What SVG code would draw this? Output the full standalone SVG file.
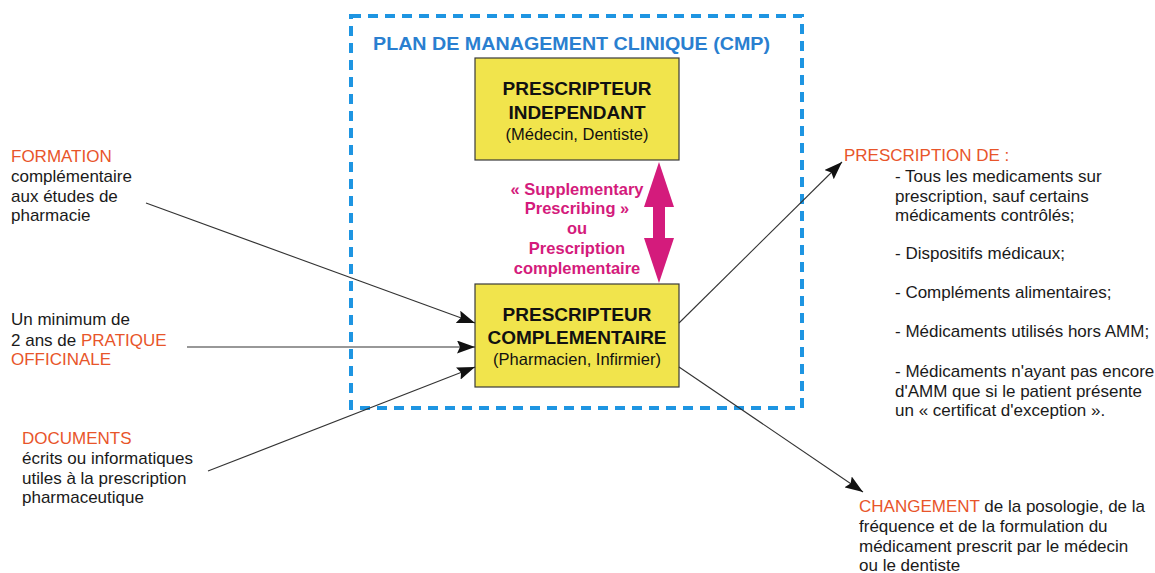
<svg xmlns="http://www.w3.org/2000/svg" width="1155" height="573" viewBox="0 0 1155 573">
<style>
text{font-family:"Liberation Sans",Arial,sans-serif;}
.b{font-size:17px;fill:#1a1a1a;}
.o{fill:#e8552a;}
.ttl{font-size:18px;font-weight:bold;fill:#2a7fd0;}
.box{fill:#f1e44c;stroke:#3a3a3a;stroke-width:1.2;}
.bt{font-size:19px;font-weight:bold;fill:#111;text-anchor:middle;}
.bs{font-size:16.5px;fill:#111;text-anchor:middle;}
.m{font-size:16.5px;font-weight:bold;fill:#d41b7c;text-anchor:middle;}
.c{stroke:#333;stroke-width:1.1;fill:none;marker-end:url(#ah);}
</style>
<defs>
<marker id="ah" markerUnits="userSpaceOnUse" markerWidth="19" markerHeight="13" refX="18" refY="6.5" orient="auto">
<path d="M0,0 L18,6.5 L0,13 L3,6.5 z" fill="#111"/>
</marker>
</defs>
<rect x="0" y="0" width="1155" height="573" fill="#fff"/>
<g id="cmp">
<rect x="351" y="16" width="451" height="392" fill="none" stroke="#1e95e2" stroke-width="4" stroke-dasharray="10,7"/>
<text class="ttl" x="373" y="50" textLength="397" lengthAdjust="spacingAndGlyphs">PLAN DE MANAGEMENT CLINIQUE (CMP)</text>
</g>
<g id="independant">
<rect class="box" x="475" y="58" width="204" height="102"/>
<text class="bt" x="577" y="95">PRESCRIPTEUR</text>
<text class="bt" x="577" y="119">INDEPENDANT</text>
<text class="bs" x="577" y="140">(Médecin, Dentiste)</text>
</g>
<g id="complementaire">
<rect class="box" x="475" y="284" width="204" height="103"/>
<text class="bt" x="577" y="321">PRESCRIPTEUR</text>
<text class="bt" x="577" y="344">COMPLEMENTAIRE</text>
<text class="bs" x="577" y="365">(Pharmacien, Infirmier)</text>
</g>
<g id="supplementary">
<polygon points="659,162 674,207 665,207 665,238 674,238 659,283 644,238 653,238 653,207 644,207" fill="#d41b7c"/>
<text class="m" x="577" y="195">« Supplementary</text>
<text class="m" x="577" y="214">Prescribing »</text>
<text class="m" x="577" y="234">ou</text>
<text class="m" x="577" y="254">Prescription</text>
<text class="m" x="577" y="274">complementaire</text>
</g>
<g id="formation">
<text class="b o" x="11" y="162">FORMATION</text>
<text class="b" x="11" y="182">complémentaire</text>
<text class="b" x="11" y="202">aux études de</text>
<text class="b" x="11" y="221">pharmacie</text>
</g>
<g id="pratique">
<text class="b" x="11" y="325">Un minimum de</text>
<text class="b" x="11" y="346">2 ans de <tspan class="o">PRATIQUE</tspan></text>
<text class="b o" x="11" y="365">OFFICINALE</text>
</g>
<g id="documents">
<text class="b o" x="22" y="444">DOCUMENTS</text>
<text class="b" x="22" y="464">écrits ou informatiques</text>
<text class="b" x="22" y="484">utiles à la prescription</text>
<text class="b" x="22" y="503">pharmaceutique</text>
</g>
<g id="prescription">
<text class="b o" x="844" y="161">PRESCRIPTION DE :</text>
<text class="b" x="895" y="182">- Tous les medicaments sur</text>
<text class="b" x="895" y="202">prescription, sauf certains</text>
<text class="b" x="895" y="221">médicaments contrôlés;</text>
<text class="b" x="895" y="259">- Dispositifs médicaux;</text>
<text class="b" x="895" y="298">- Compléments alimentaires;</text>
<text class="b" x="895" y="337">- Médicaments utilisés hors AMM;</text>
<text class="b" x="895" y="377">- Médicaments n'ayant pas encore</text>
<text class="b" x="895" y="397">d'AMM que si le patient présente</text>
<text class="b" x="895" y="416">un « certificat d'exception ».</text>
</g>
<g id="changement">
<text class="b" x="859" y="512"><tspan class="o">CHANGEMENT</tspan> de la posologie, de la</text>
<text class="b" x="859" y="532">fréquence et de la formulation du</text>
<text class="b" x="859" y="552">médicament prescrit par le médecin</text>
<text class="b" x="859" y="571">ou le dentiste</text>
</g>
<g id="connectors">
<path class="c" d="M146,203 L475,323"/>
<path class="c" d="M187,347 L475,347"/>
<path class="c" d="M208,471 L475,367"/>
<path class="c" d="M679,323 L842,162"/>
<path class="c" d="M679,367 L863,492"/>
</g>
</svg>
